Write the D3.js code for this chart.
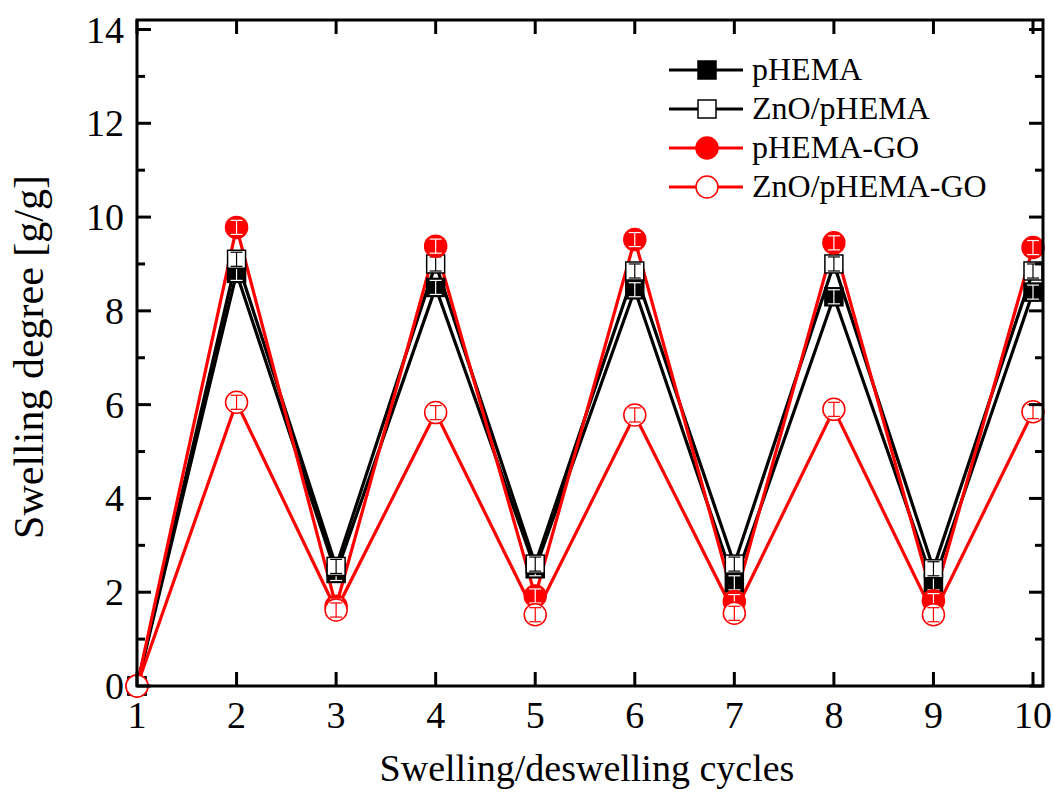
<!DOCTYPE html>
<html><head><meta charset="utf-8">
<script src="https://cdn.jsdelivr.net/npm/d3@7"></script>
<style>body{margin:0;background:#fff}text{font-family:"Liberation Serif","Times New Roman",serif}</style>
</head><body><svg id="c" width="1054" height="804"></svg>
<script>
const cycles = [1,2,3,4,5,6,7,8,9,10];
const pHEMA = [0, 8.8, 2.4, 8.5, 2.5, 8.45, 2.2, 8.3, 2.2, 8.4];
const znoPHEMA = [0, 9.1, 2.55, 9.0, 2.6, 8.85, 2.6, 9.0, 2.5, 8.85];
const pHEMAGO = [0, 9.78, 1.7, 9.38, 1.92, 9.52, 1.8, 9.45, 1.82, 9.35];
const znoPHEMAGO = [0, 6.05, 1.62, 5.83, 1.52, 5.78, 1.55, 5.9, 1.52, 5.85];
const errVal = [0, 0.15, 0.15, 0.15, 0.15, 0.15, 0.15, 0.15, 0.15, 0.15];
const xTicks = [1,2,3,4,5,6,7,8,9,10];
const yTicks = [0,2,4,6,8,10,12,14];
const seriesNames = ["pHEMA","ZnO/pHEMA","pHEMA-GO","ZnO/pHEMA-GO"];

const series = [
  {name:seriesNames[0], vals:pHEMA, color:"#000", shape:"square", fill:"#000"},
  {name:seriesNames[1], vals:znoPHEMA, color:"#000", shape:"square", fill:"#fff"},
  {name:seriesNames[2], vals:pHEMAGO, color:"#f00", shape:"circle", fill:"#f00"},
  {name:seriesNames[3], vals:znoPHEMAGO, color:"#f00", shape:"circle", fill:"#fff"}
];

const svg = d3.select("#c");
const L=137, R=1043, T=20, B=686;
const x = d3.scaleLinear().domain([1,10]).range([137,1033]);
const y = d3.scaleLinear().domain([0,14]).range([686,29.5]);

const g = svg.append("g");
const line = d3.line().x((d,i)=>x(cycles[i])).y(d=>y(d));
series.forEach(s=>{
  g.append("path").attr("d",line(s.vals)).attr("fill","none")
   .attr("stroke",s.color).attr("stroke-width",3.2).attr("stroke-linejoin","miter");
});
function marker(sel, s, cx, cy){
  if(s.shape==="square"){
    sel.append("rect").attr("x",cx-9).attr("y",cy-9).attr("width",18).attr("height",18)
      .attr("fill",s.fill).attr("stroke",s.color).attr("stroke-width",1.5);
  } else {
    sel.append("circle").attr("cx",cx).attr("cy",cy).attr("r",11)
      .attr("fill",s.fill).attr("stroke",s.color).attr("stroke-width",1.5);
  }
}
series.forEach(s=>{
  s.vals.forEach((v,i)=>{
    const cx=x(cycles[i]), cy=y(v);
    marker(g,s,cx,cy);
    const e=errVal[i];
    if(e>0){
      const ec = s.fill==="#fff" ? s.color : "#fff";
      const eg=g.append("g").attr("stroke",ec).attr("stroke-width",1.2);
      eg.append("line").attr("x1",cx).attr("x2",cx).attr("y1",y(v-e)).attr("y2",y(v+e));
      eg.append("line").attr("x1",cx-6).attr("x2",cx+6).attr("y1",y(v-e)).attr("y2",y(v-e));
      eg.append("line").attr("x1",cx-6).attr("x2",cx+6).attr("y1",y(v+e)).attr("y2",y(v+e));
    }
  });
});

svg.append("rect").attr("x",L).attr("y",T).attr("width",R-L).attr("height",B-T)
  .attr("fill","none").attr("stroke","#000").attr("stroke-width",3);

const tk = svg.append("g").attr("stroke","#000").attr("stroke-width",3);
xTicks.forEach(t=>{
  tk.append("line").attr("x1",x(t)).attr("x2",x(t)).attr("y1",B).attr("y2",B-14);
  tk.append("line").attr("x1",x(t)).attr("x2",x(t)).attr("y1",T).attr("y2",T+14);
});
d3.range(0,15,1).forEach(t=>{
  const len = t%2===0 ? 14 : 8;
  tk.append("line").attr("x1",L).attr("x2",L+len).attr("y1",y(t)).attr("y2",y(t));
  tk.append("line").attr("x1",R).attr("x2",R-len).attr("y1",y(t)).attr("y2",y(t));
});

xTicks.forEach(t=>{
  svg.append("text").attr("x",x(t)).attr("y",728).attr("text-anchor","middle")
    .attr("font-size",38).text(t);
});
yTicks.forEach(t=>{
  svg.append("text").attr("x",124).attr("y",y(t)+13).attr("text-anchor","end")
    .attr("font-size",38).text(t);
});

svg.append("text").attr("x",587).attr("y",781).attr("text-anchor","middle")
  .attr("font-size",38).text("Swelling/deswelling cycles");
svg.append("text").attr("transform","translate(43,357) rotate(-90)").attr("text-anchor","middle")
  .attr("font-size",42).text("Swelling degree [g/g]");

const lg = svg.append("g");
series.forEach((s,i)=>{
  const ly = 70 + i*39;
  lg.append("line").attr("x1",669).attr("x2",743).attr("y1",ly).attr("y2",ly)
    .attr("stroke",s.color).attr("stroke-width",3.2);
  marker(lg,s,707,ly);
  lg.append("text").attr("x",752).attr("y",ly+10).attr("font-size",32).text(s.name);
});
</script></body></html>
